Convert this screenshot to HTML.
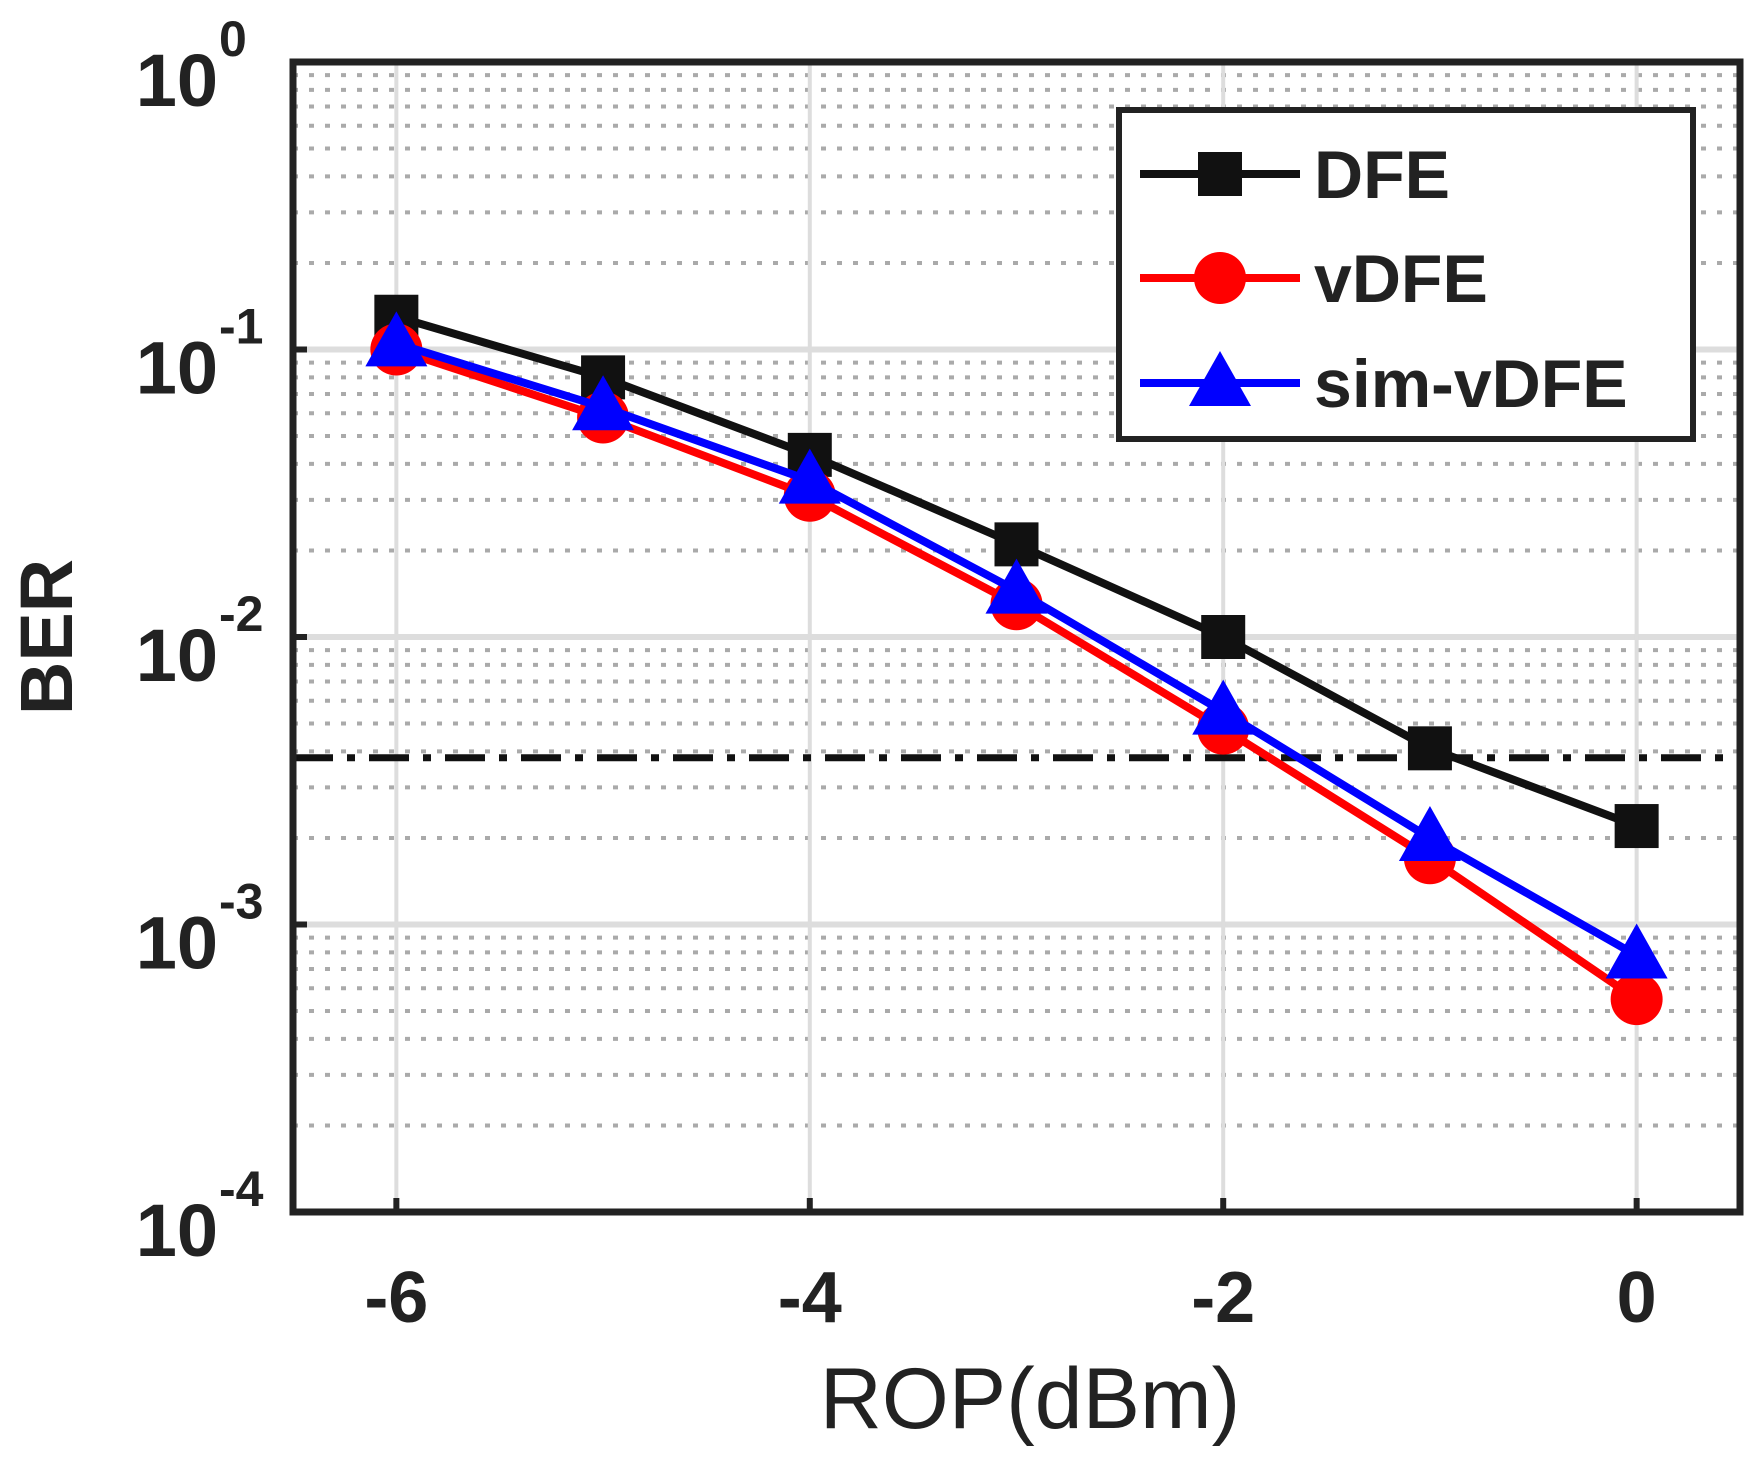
<!DOCTYPE html>
<html><head><meta charset="utf-8"><style>
body{margin:0;background:#fff;}
svg text{font-family:"Liberation Sans",Arial,sans-serif;}
</style></head><body>
<svg id="chart" width="1761" height="1476" viewBox="0 0 1761 1476" xmlns="http://www.w3.org/2000/svg">
<g id="grid"></g>
<g id="series"></g>
<rect x="293" y="62" width="1447" height="1150" fill="none" stroke="#222" stroke-width="7"/>
<g id="ticks"></g>
<text transform="translate(72,637) rotate(-90)" text-anchor="middle" font-size="74" font-weight="bold" fill="#222">BER</text>
<text x="1030" y="1428" text-anchor="middle" font-size="86" fill="#222">ROP(dBm)</text>
<g id="legend">
<rect x="1119" y="110" width="574" height="329" fill="#fff" stroke="#222" stroke-width="6"/>
</g>
</svg>
<script>
const xCategories=[-6,-5,-4,-3,-2,-1,0];
const dfeValues=[0.13,0.08,0.043,0.021,0.0100,0.0041,0.0022];
const vdfeValues=[0.100,0.058,0.031,0.013,0.0048,0.0017,0.00055];
const simValues=[0.105,0.063,0.035,0.0145,0.0055,0.0020,0.00078];
const thresholdValue=[0.0038];
const xTickLabels=["-6","-4","-2","0"];
const xTickValues=[-6,-4,-2,0];
const yTickExps=["0","-1","-2","-3","-4"];
const seriesNames=["DFE","vDFE","sim-vDFE"];

const L=293,R=1740,T=62,B=1212;
const xMin=-6.5,xMax=0.5,yMinE=-4,yMaxE=0;
const xs=v=>L+(v-xMin)/(xMax-xMin)*(R-L);
const ys=v=>T+(yMaxE-Math.log10(v))/(yMaxE-yMinE)*(B-T);
const NS="http://www.w3.org/2000/svg";
function mk(tag,attrs,parent){const e=document.createElementNS(NS,tag);for(const k in attrs)e.setAttribute(k,attrs[k]);parent.appendChild(e);return e;}
const grid=document.getElementById('grid'),ser=document.getElementById('series'),ticks=document.getElementById('ticks'),leg=document.getElementById('legend');

for(let e=-4;e<0;e++){for(let m=2;m<=9;m++){const y=ys(m*Math.pow(10,e));
const l=mk('line',{x1:L,x2:R,y1:y,y2:y,stroke:'#aaa','stroke-width':4,'stroke-dasharray':'5 11'},grid);

}}
for(let e=-3;e<0;e++){const y=ys(Math.pow(10,e));
const l=mk('line',{x1:L,x2:R,y1:y,y2:y,stroke:'#ddd','stroke-width':6},grid);

}
xTickValues.forEach(v=>{const x=xs(v);
const l=mk('line',{x1:x,x2:x,y1:T,y2:B,stroke:'#ddd','stroke-width':4},grid);

});

const ty=ys(thresholdValue[0]);
const th=mk('line',{x1:L,x2:R,y1:ty,y2:ty,stroke:'#111','stroke-width':7,'stroke-dasharray':'40 14 8 14'},ser);



function marker(kind,cx,cy,color,parent,name){let m;
if(kind==='sq'){m=mk('rect',{x:cx-22,y:cy-22,width:44,height:44,fill:'#111'},parent);}
else if(kind==='ci'){m=mk('circle',{cx:cx,cy:cy,r:26,fill:color},parent);}
else{m=mk('polygon',{points:`${cx},${cy-32} ${cx+31},${cy+23} ${cx-31},${cy+23}`,fill:color},parent);}

}

const defs=[[dfeValues,'#111','sq','dfe'],[vdfeValues,'#ff0000','ci','vdfe'],[simValues,'#0000ff','tr','sim-vdfe']];
defs.forEach(([vals,col,kind,nm])=>{
const pts=vals.map((v,i)=>xs(xCategories[i])+','+ys(v)).join(' ');
const pl=mk('polyline',{points:pts,fill:'none',stroke:col,'stroke-width':8,'stroke-linejoin':'round'},ser);


vals.forEach((v,i)=>marker(kind,xs(xCategories[i]),ys(v),col,ser,nm+'-point'));});

xTickValues.forEach((v,i)=>{const x=xs(v);
const t=mk('line',{x1:x,x2:x,y1:B,y2:B-14,stroke:'#222','stroke-width':6},ticks);


const tx=mk('text',{x:x,y:1322,'text-anchor':'middle','font-size':72,'font-weight':'bold',fill:'#222'},ticks);
tx.textContent=xTickLabels[i];

});
yTickExps.forEach(e=>{const y=ys(Math.pow(10,+e));
const t=mk('line',{x1:L,x2:L+14,y1:y,y2:y,stroke:'#222','stroke-width':6},ticks);


const tx=mk('text',{x:218,y:y+44,'text-anchor':'end','font-size':74,'font-weight':'bold',fill:'#222'},ticks);
tx.textContent='10';


const sp=mk('text',{x:219,y:y-6,'text-anchor':'start','font-size':50,'font-weight':'bold',fill:'#222'},ticks);
sp.textContent=e;

});

const rows=[174,278,383];
defs.forEach(([vals,col,kind,nm],i)=>{const y=rows[i];
const l=mk('line',{x1:1140,x2:1300,y1:y,y2:y,stroke:col,'stroke-width':8},leg);


marker(kind,1220,y,col,leg,'legend-marker-'+nm);
const t=mk('text',{x:1314,y:y+24,'font-size':68,'font-weight':'bold',fill:'#222'},leg);
t.textContent=seriesNames[i];

});
</script>
</body></html>
